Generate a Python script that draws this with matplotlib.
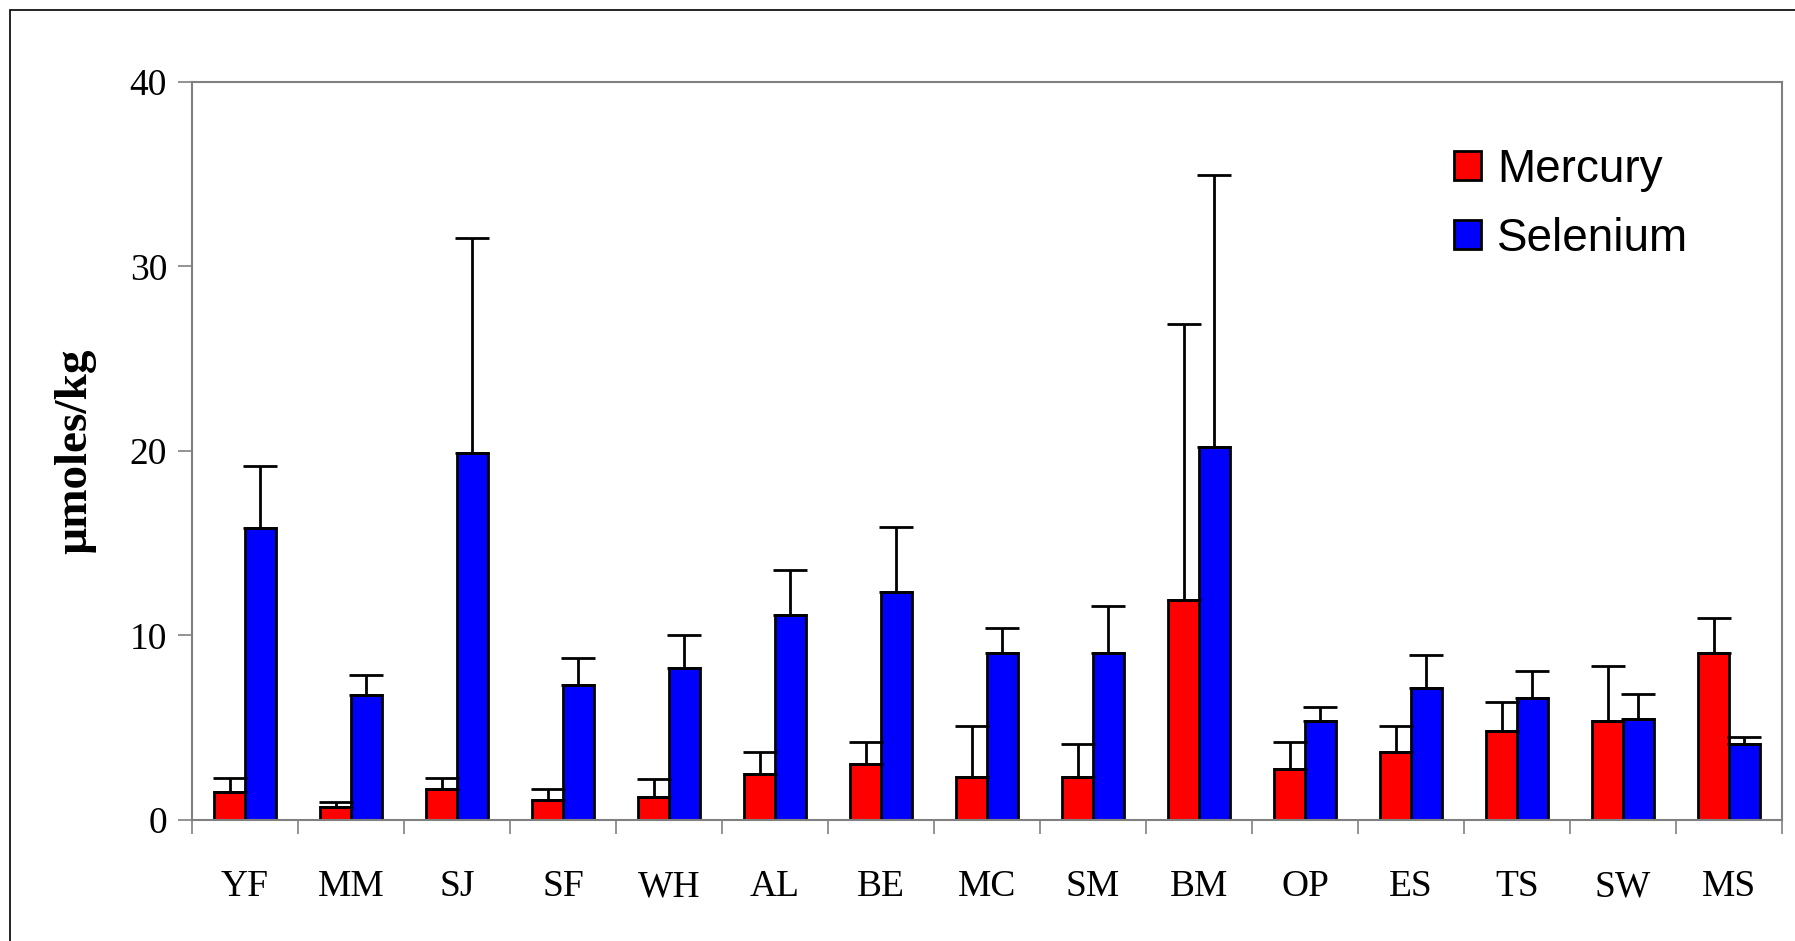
import numpy as np
import matplotlib.pyplot as plt
from matplotlib.patches import Rectangle

sites = ["YF", "MM", "SJ", "SF", "WH", "AL", "BE", "MC", "SM", "BM", "OP", "ES", "TS", "SW", "MS"]
mercury = [1.5, 0.7, 1.7, 1.1, 1.25, 2.5, 3.05, 2.35, 2.35, 11.95, 2.75, 3.7, 4.8, 5.35, 9.05]
mercury_err = [0.8, 0.3, 0.55, 0.6, 0.95, 1.2, 1.2, 2.75, 1.75, 14.95, 1.5, 1.4, 1.6, 3.0, 1.9]
selenium = [15.8, 6.75, 19.9, 7.3, 8.25, 11.1, 12.35, 9.05, 9.05, 20.2, 5.35, 7.15, 6.6, 5.45, 4.1]
selenium_err = [3.4, 1.1, 11.65, 1.5, 1.75, 2.45, 3.55, 1.35, 2.55, 14.75, 0.8, 1.8, 1.5, 1.4, 0.4]

fig = plt.figure(figsize=(17.95, 9.41), dpi=100)
ax = fig.add_axes([0.107, 0.1286, 0.8858, 0.7843])

x = np.arange(len(sites))
w = 0.29
ekw = dict(elinewidth=2, capthick=2, capsize=12, ecolor="black")

ax.bar(x - w/2, mercury, w, color="#ff0000", edgecolor="black", linewidth=2,
       yerr=[np.zeros(len(sites)), mercury_err], error_kw=ekw, label="Mercury")
ax.bar(x + w/2, selenium, w, color="#0000ff", edgecolor="black", linewidth=2,
       yerr=[np.zeros(len(sites)), selenium_err], error_kw=ekw, label="Selenium")

ax.set_xlim(-0.5, len(sites) - 0.5)
ax.set_ylim(0, 40)
ax.set_yticks([0, 10, 20, 30, 40])
ax.set_yticklabels(["0", "10", "20", "30", "40"], family="Liberation Serif", fontsize=27)

# ticks between categories, labels centred
ax.set_xticks(np.arange(len(sites) + 1) - 0.5)
ax.set_xticklabels([])
ax.set_xticks(x, minor=True)
ax.set_xticklabels(sites, minor=True, family="Liberation Serif", fontsize=27)
ax.tick_params(axis="x", which="minor", length=0, pad=36)
ax.tick_params(axis="x", which="major", length=10, width=1.2, color="#808080", direction="out")
ax.tick_params(axis="y", length=10, width=1.2, color="#808080", direction="out", pad=8)

for s in ax.spines.values():
    s.set_color("#808080")
    s.set_linewidth(1.5)

ax.set_ylabel("µmoles/kg", family="Liberation Serif", fontweight="bold", fontsize=34, labelpad=24)

ax.legend(loc="upper left", bbox_to_anchor=(0.779, 0.942), frameon=False, borderpad=0,
          prop={"family": "Liberation Sans", "size": 33},
          handlelength=0.6, handleheight=0.6, handletextpad=0.35, labelspacing=0.55)

# outer chart border
fig.patches.append(Rectangle((10/1795, -0.05), 1.2, 1 - 10/941 + 0.05, transform=fig.transFigure,
                             fill=False, edgecolor="black", linewidth=1.2))

fig.savefig("out.png", dpi=100)
